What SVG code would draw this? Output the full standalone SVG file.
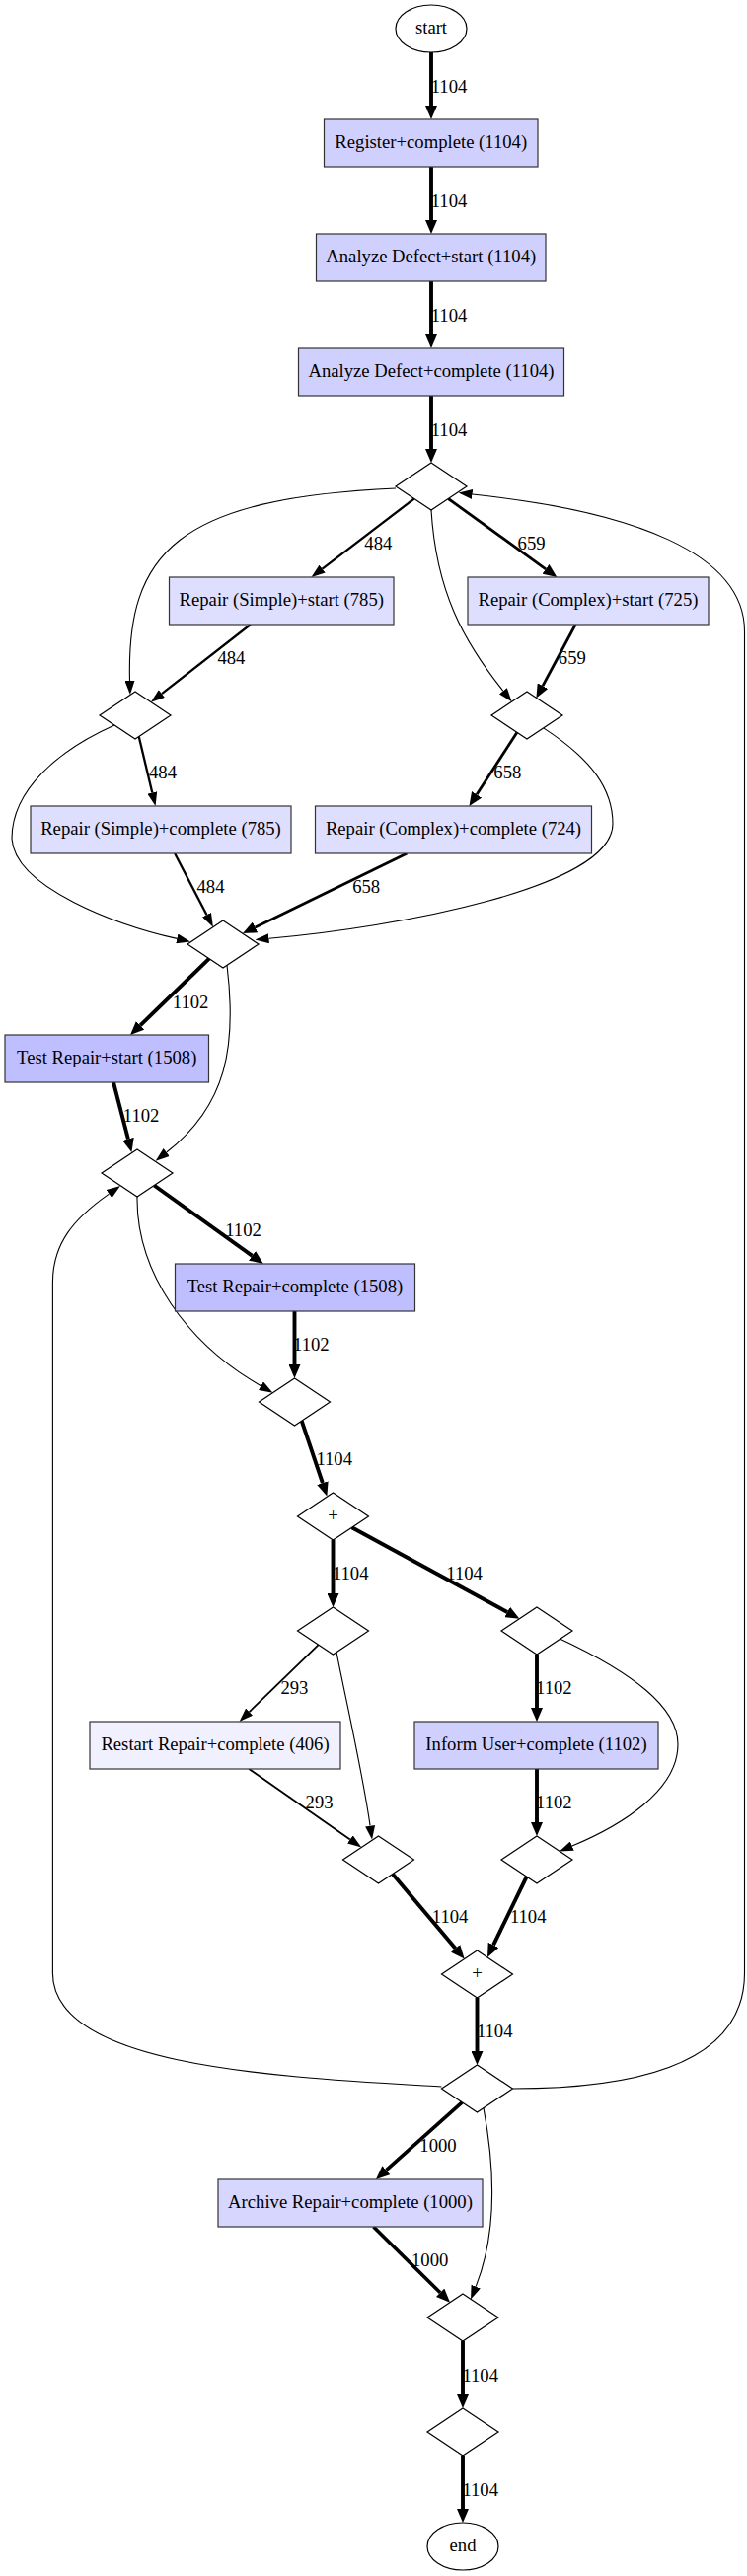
<svg xmlns="http://www.w3.org/2000/svg" width="757" height="2611" viewBox="0 0 757 2611">
<style>
text{font-family:"Liberation Serif","Times New Roman",serif;font-size:18.67px;fill:#000}
.n text{text-anchor:middle}
.lbl{text-anchor:middle}
.box{stroke:#333;stroke-width:1.2}
.dia{fill:#fff;stroke:#000;stroke-width:1.2}
.ell{fill:#fff;stroke:#000;stroke-width:1.2}
.e{fill:none;stroke:#000}
.e1{stroke-width:1.1;marker-end:url(#ah)}
.e18{stroke-width:1.8;marker-end:url(#ah)}
.e23{stroke-width:2.3;marker-end:url(#ah)}
.e28{stroke-width:2.8;marker-end:url(#ahb)}
.e37{stroke-width:3.6;marker-end:url(#ahb)}
.e4{stroke-width:3.9;marker-end:url(#ahb)}
.f1508{fill:#bfbfff}.f1104{fill:#d0d0ff}.f1000{fill:#d6d6ff}.f785{fill:#dedeff}.f406{fill:#f0f0ff}
</style>
<defs>
<marker id="ah" viewBox="0 0 14 10" refX="0" refY="5" markerWidth="14" markerHeight="10" markerUnits="userSpaceOnUse" orient="auto"><path d="M0,0 L14,5 L0,10 z" fill="#000"/></marker>
<marker id="ahb" viewBox="0 0 14 12" refX="0" refY="6" markerWidth="14" markerHeight="12" markerUnits="userSpaceOnUse" orient="auto"><path d="M0,0 L14,6 L0,12 z" fill="#000"/></marker>
</defs>
<rect width="757" height="2611" fill="#fff"/>
<g id="edges">
<path class="e e4" d="M437,53 L437,107"/><text class="lbl" x="455" y="93.5">1104</text>
<path class="e e4" d="M437,169 L437,223"/><text class="lbl" x="455" y="209.5">1104</text>
<path class="e e4" d="M437,285 L437,339"/><text class="lbl" x="455" y="325.5">1104</text>
<path class="e e4" d="M437,401 L437,455"/><text class="lbl" x="455" y="441.5">1104</text>
<path class="e e23" d="M419.7,505.5 L326.6,576.6"/><text class="lbl" x="383.3" y="556.5">484</text>
<path class="e e28" d="M454.3,505.5 L553,576.8"/><text class="lbl" x="538.6" y="556.5">659</text>
<path class="e e1" d="M401,495 C180,505 128,560 131.5,690"/>
<path class="e e1" d="M437,517 C442,600 470,650 509.9,700.3"/>
<path class="e e23" d="M253.8,633 L163.9,703.1"/><text class="lbl" x="234.4" y="673">484</text>
<path class="e e28" d="M583.2,633 L550,695.2"/><text class="lbl" x="579.8" y="673">659</text>
<path class="e e23" d="M140.7,746.5 L154.3,803.4"/><text class="lbl" x="165" y="789">484</text>
<path class="e e28" d="M524,742.3 L483.1,805.3"/><text class="lbl" x="514.3" y="789">658</text>
<path class="e e1" d="M116,735 C60,760 12,800 12,850 C15,900 120,938 179.3,951.4"/>
<path class="e e1" d="M550.7,737.9 C600,770 621,800 621,835 C621,900 400,940 272.5,951.2"/>
<path class="e e23" d="M177.1,865 L209.5,927.3"/><text class="lbl" x="213.5" y="905">484</text>
<path class="e e28" d="M412.4,865 L258.6,939.9"/><text class="lbl" x="371.2" y="905">658</text>
<path class="e e4" d="M212,971.7 L142.1,1039.3"/><text class="lbl" x="193.1" y="1021.5">1102</text>
<path class="e e1" d="M230,978.3 C240,1060 230,1120 168.7,1168"/>
<path class="e e4" d="M115,1097 L129.9,1154.4"/><text class="lbl" x="143.1" y="1136.5">1102</text>
<path class="e e4" d="M156.2,1201.5 L255.5,1272.8"/><text class="lbl" x="246.5" y="1253">1102</text>
<path class="e e1" d="M139,1213 C138,1290 190,1362 264.4,1404.7"/>
<path class="e e4" d="M298.5,1329 L298.5,1383"/><text class="lbl" x="315.4" y="1369">1102</text>
<path class="e e4" d="M305.7,1440.2 L326.9,1503.2"/><text class="lbl" x="338.7" y="1485">1104</text>
<path class="e e4" d="M337.5,1561 L337.5,1615"/><text class="lbl" x="355.2" y="1601">1104</text>
<path class="e e4" d="M356.6,1548.3 L514.1,1634"/><text class="lbl" x="470.6" y="1601">1104</text>
<path class="e e18" d="M322.7,1667.1 L252.6,1735.2"/><text class="lbl" x="298.4" y="1716.5">293</text>
<path class="e e1" d="M341,1674.6 C352,1730 368,1800 375.1,1850.7"/>
<path class="e e4" d="M544,1677 L544,1731"/><text class="lbl" x="561.4" y="1716.5">1102</text>
<path class="e e1" d="M567.7,1661.2 C640,1695 687,1730 687,1768 C687,1815 630,1850 579.8,1871.1"/>
<path class="e e18" d="M252.3,1793 L354.8,1864.5"/><text class="lbl" x="323.6" y="1832.5">293</text>
<path class="e e4" d="M544,1793 L544,1847"/><text class="lbl" x="561.4" y="1832.5">1102</text>
<path class="e e4" d="M397.9,1899.4 L461.6,1974.9"/><text class="lbl" x="456.1" y="1949">1104</text>
<path class="e e4" d="M533.7,1902.1 L500.1,1971.4"/><text class="lbl" x="535.2" y="1949">1104</text>
<path class="e e4" d="M483.5,2025 L483.5,2079"/><text class="lbl" x="501.2" y="2065">1104</text>
<path class="e e1" d="M447.5,2115 C280,2105 53.4,2095 53.4,2000 L53.4,1300 C53.4,1260 75,1235 110.5,1210.1"/>
<path class="e e1" d="M519.5,2117 C650,2117 754.5,2090 754.5,2000 L754.5,640 C754.5,560 640,518 478.6,501"/>
<path class="e e37" d="M468.3,2130.9 L391.4,2199.7"/><text class="lbl" x="444" y="2180.5">1000</text>
<path class="e e1" d="M490,2136.7 C500,2190 505,2260 482.2,2317.6"/>
<path class="e e37" d="M378.5,2257 L446.1,2323.8"/><text class="lbl" x="435.7" y="2296.5">1000</text>
<path class="e e4" d="M469,2373 L469,2427"/><text class="lbl" x="486.7" y="2413.5">1104</text>
<path class="e e4" d="M469,2489 L469,2543"/><text class="lbl" x="486.7" y="2529.5">1104</text>
</g>
<g id="node-start" class="n"><ellipse class="ell" cx="437" cy="29" rx="36" ry="24"/><text x="437" y="34">start</text></g>
<g id="node-register" class="n"><rect class="box f1104" x="328.5" y="121" width="216.5" height="48"/><text x="436.75" y="150">Register+complete (1104)</text></g>
<g id="node-analyze-start" class="n"><rect class="box f1104" x="320.5" y="237" width="232.5" height="48"/><text x="436.75" y="266">Analyze Defect+start (1104)</text></g>
<g id="node-analyze-complete" class="n"><rect class="box f1104" x="302.5" y="353" width="269" height="48"/><text x="437" y="382">Analyze Defect+complete (1104)</text></g>
<g id="node-d1" class="n"><polygon class="dia" points="437,469 473,493 437,517 401,493"/></g>
<g id="node-repair-simple-start" class="n"><rect class="box f785" x="171.5" y="585" width="227.5" height="48"/><text x="285.25" y="614">Repair (Simple)+start (785)</text></g>
<g id="node-repair-complex-start" class="n"><rect class="box f785" x="474" y="585" width="244" height="48"/><text x="596" y="614">Repair (Complex)+start (725)</text></g>
<g id="node-d2" class="n"><polygon class="dia" points="137,701 173,725 137,749 101,725"/></g>
<g id="node-d3" class="n"><polygon class="dia" points="534,701 570,725 534,749 498,725"/></g>
<g id="node-repair-simple-complete" class="n"><rect class="box f785" x="31" y="817" width="264" height="48"/><text x="163" y="846">Repair (Simple)+complete (785)</text></g>
<g id="node-repair-complex-complete" class="n"><rect class="box f785" x="319.5" y="817" width="280" height="48"/><text x="459.5" y="846">Repair (Complex)+complete (724)</text></g>
<g id="node-d4" class="n"><polygon class="dia" points="226,933 262,957 226,981 190,957"/></g>
<g id="node-test-start" class="n"><rect class="box f1508" x="5" y="1049" width="206.5" height="48"/><text x="108.25" y="1078">Test Repair+start (1508)</text></g>
<g id="node-d5" class="n"><polygon class="dia" points="139,1165 175,1189 139,1213 103,1189"/></g>
<g id="node-test-complete" class="n"><rect class="box f1508" x="177.5" y="1281" width="243" height="48"/><text x="299" y="1310">Test Repair+complete (1508)</text></g>
<g id="node-d6" class="n"><polygon class="dia" points="298.5,1397 334.5,1421 298.5,1445 262.5,1421"/></g>
<g id="node-and1" class="n"><polygon class="dia" points="337.5,1513 373.5,1537 337.5,1561 301.5,1537"/><text x="337.5" y="1542">+</text></g>
<g id="node-d7" class="n"><polygon class="dia" points="337.5,1629 373.5,1653 337.5,1677 301.5,1653"/></g>
<g id="node-d8" class="n"><polygon class="dia" points="544,1629 580,1653 544,1677 508,1653"/></g>
<g id="node-restart" class="n"><rect class="box f406" x="91" y="1745" width="254" height="48"/><text x="218" y="1774">Restart Repair+complete (406)</text></g>
<g id="node-inform" class="n"><rect class="box f1104" x="420" y="1745" width="247" height="48"/><text x="543.5" y="1774">Inform User+complete (1102)</text></g>
<g id="node-d9" class="n"><polygon class="dia" points="383.5,1861 419.5,1885 383.5,1909 347.5,1885"/></g>
<g id="node-d10" class="n"><polygon class="dia" points="544,1861 580,1885 544,1909 508,1885"/></g>
<g id="node-and2" class="n"><polygon class="dia" points="483.5,1977 519.5,2001 483.5,2025 447.5,2001"/><text x="483.5" y="2006">+</text></g>
<g id="node-d11" class="n"><polygon class="dia" points="483.5,2093 519.5,2117 483.5,2141 447.5,2117"/></g>
<g id="node-archive" class="n"><rect class="box f1000" x="221" y="2209" width="268" height="48"/><text x="355" y="2238">Archive Repair+complete (1000)</text></g>
<g id="node-d12" class="n"><polygon class="dia" points="469,2325 505,2349 469,2373 433,2349"/></g>
<g id="node-d13" class="n"><polygon class="dia" points="469,2441 505,2465 469,2489 433,2465"/></g>
<g id="node-end" class="n"><ellipse class="ell" cx="469" cy="2581" rx="36" ry="24"/><text x="469" y="2586">end</text></g>
</svg>
